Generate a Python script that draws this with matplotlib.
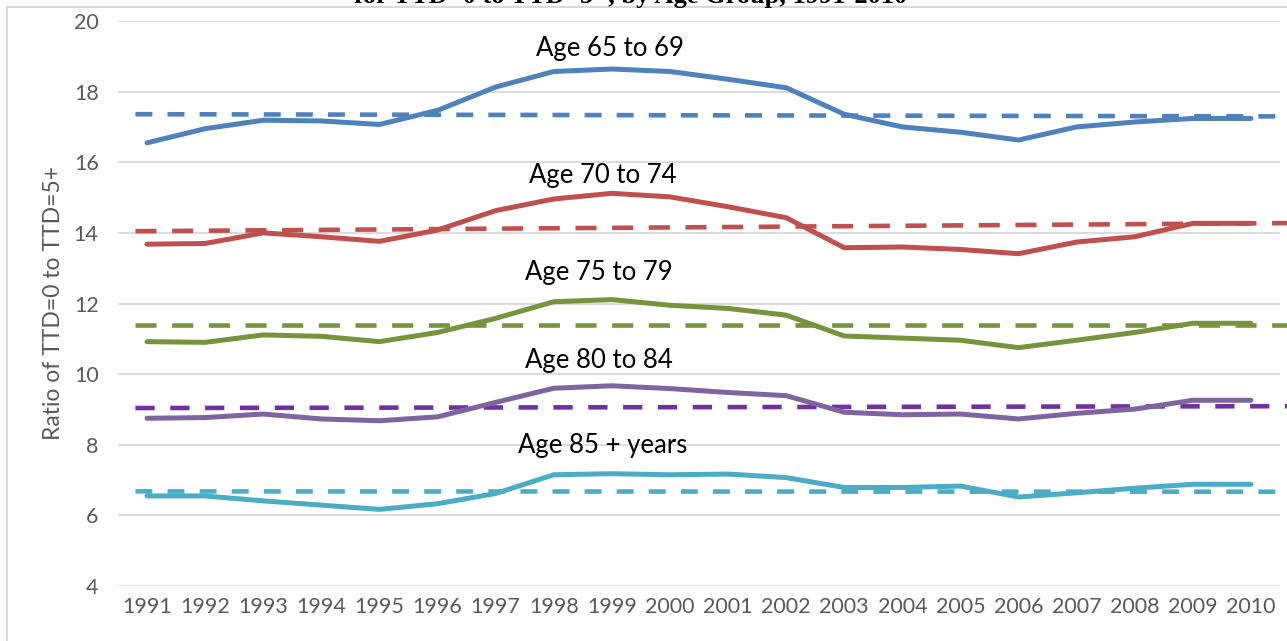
import matplotlib
matplotlib.use("Agg")
import matplotlib.pyplot as plt
from matplotlib.lines import Line2D

plt.rcParams["font.family"] = ["Lato", "DejaVu Sans"]

years = list(range(1991, 2011))

age_65_69 = [16.55, 16.95, 17.19, 17.17, 17.07, 17.47, 18.13, 18.57, 18.64, 18.57,
             18.35, 18.11, 17.36, 17.00, 16.85, 16.63, 17.00, 17.14, 17.24, 17.24]
age_70_74 = [13.68, 13.70, 14.00, 13.89, 13.76, 14.08, 14.63, 14.96, 15.12, 15.02,
             14.74, 14.43, 13.58, 13.60, 13.53, 13.41, 13.74, 13.89, 14.27, 14.27]
age_75_79 = [10.92, 10.90, 11.11, 11.07, 10.92, 11.18, 11.58, 12.05, 12.11, 11.95,
             11.86, 11.67, 11.08, 11.02, 10.96, 10.75, 10.96, 11.18, 11.44, 11.44]
age_80_84 = [8.75, 8.77, 8.87, 8.73, 8.68, 8.79, 9.20, 9.60, 9.67, 9.59,
             9.48, 9.39, 8.92, 8.85, 8.87, 8.73, 8.89, 9.01, 9.26, 9.26]
age_85_up = [6.55, 6.55, 6.41, 6.29, 6.17, 6.33, 6.62, 7.15, 7.18, 7.15,
             7.17, 7.07, 6.79, 6.79, 6.83, 6.52, 6.64, 6.77, 6.88, 6.88]

# trend lines (start value at 1991, end value at 2010)
trend_65_69 = [17.36, 17.30]
trend_70_74 = [14.05, 14.27]
trend_75_79 = [11.40, 11.40]
trend_80_84 = [9.04, 9.09]
trend_85_up = [6.68, 6.67]

labels = ["Age 65 to 69", "Age 70 to 74", "Age 75 to 79", "Age 80 to 84", "Age 85 + years"]
label_x = [1998.96, 1998.84, 1998.77, 1998.77, 1998.85]
label_y = [19.23, 15.63, 12.88, 10.38, 7.97]

series = [age_65_69, age_70_74, age_75_79, age_80_84, age_85_up]
trends = [trend_65_69, trend_70_74, trend_75_79, trend_80_84, trend_85_up]
line_colors = ["#4F81BD", "#C0504D", "#77933C", "#8064A2", "#4BACC6"]
trend_colors = ["#4F81BD", "#C0504D", "#77933C", "#7030A0", "#4BACC6"]
trend_dashes = [(3.7, 3.3), (4.6, 3.4), (4.6, 3.4), (4.2, 3.4), (3.7, 3.3)]

fig = plt.figure(figsize=(12.87, 6.41), dpi=100)
ax = fig.add_axes([118 / 1287, 1 - 586 / 641, (1280 - 118) / 1287, (586 - 21) / 641])

# chart border (partly cropped in the reference)
fig.add_artist(Line2D([7 / 1287, 7 / 1287], [0, 1 - 7 / 641], transform=fig.transFigure,
                      color="#D9D9D9", lw=1.5))
fig.add_artist(Line2D([7 / 1287, 1], [1 - 7 / 641, 1 - 7 / 641], transform=fig.transFigure,
                      color="#D9D9D9", lw=1.5))

# title is cropped at the top edge in the reference
fig.text(0.490, 1 - 3 / 641, "for TTD=0 to TTD=5+, by Age Group, 1991-2010",
         ha="center", va="baseline", fontsize=19, fontweight="bold",
         family="Liberation Serif")

for vals, tr, lc, tc, dsh in zip(series, trends, line_colors, trend_colors, trend_dashes):
    slope = (tr[1] - tr[0]) / 19
    x0, x1 = 1990.8, 2010.9
    ax.plot([x0, x1], [tr[0] + slope * (x0 - 1991), tr[0] + slope * (x1 - 1991)],
            color=tc, lw=3.3, dashes=dsh, clip_on=False, zorder=3)
    ax.plot(years, vals, color=lc, lw=3.6, solid_capstyle="round",
            solid_joinstyle="round", zorder=4)

for txt, lx, ly in zip(labels, label_x, label_y):
    ax.text(lx, ly, txt, ha="center", va="center", fontsize=18.5, color="black")

ax.set_xlim(1990.5, 2010.5)
ax.set_ylim(4, 20)
ax.set_xticks(years)
ax.set_xticklabels([str(y) for y in years])
ax.set_yticks(range(4, 21, 2))
ax.grid(axis="y", color="#D9D9D9", lw=1.3)
ax.set_axisbelow(True)
for s in ax.spines.values():
    s.set_visible(False)
ax.tick_params(length=0, labelsize=15.5, labelcolor="#595959", pad=8)
ax.tick_params(axis="y", pad=14)
ax.set_ylabel("Ratio of TTD=0 to TTD=5+", fontsize=16.5, color="#595959", labelpad=7)

fig.savefig("out.png", dpi=100)
